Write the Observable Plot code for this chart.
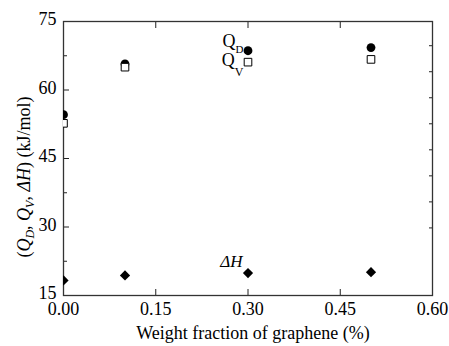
<!DOCTYPE html>
<html>
<head>
<meta charset="utf-8">
<script src="https://cdn.jsdelivr.net/npm/d3@7"></script>
<script src="https://cdn.jsdelivr.net/npm/@observablehq/plot@0.6"></script>
<style>
  html, body { margin: 0; padding: 0; background: #fff; }
  #chart { width: 449px; height: 346px; }
  #chart svg, #chart svg text { font-family: "Liberation Serif", "Times New Roman", serif; }
</style>
</head>
<body>
<div id="chart"></div>
<script>
// Data
const weightFraction = [0, 0.1, 0.3, 0.5];
const QD = [54.6, 65.7, 68.6, 69.3];
const QV = [52.7, 65.0, 66.1, 66.7];
const dH = [18.3, 19.4, 19.9, 20.1];

const xTicks = [0, 0.15, 0.30, 0.45, 0.60];
const xTickLabels = ["0.00", "0.15", "0.30", "0.45", "0.60"];
const yTicks = [15, 30, 45, 60, 75];
const yMinorTicks = [22.5, 37.5, 52.5, 67.5];
const yRightTicks = [69.7, 64.0, 58.3, 52.6, 46.9, 41.2, 35.5, 29.8];

const rows = weightFraction.map((w, i) => ({w, qd: QD[i], qv: QV[i], dh: dH[i]}));

const FONT = "'Liberation Serif', 'Times New Roman', serif";

const plot = Plot.plot({
  width: 449,
  height: 346,
  marginLeft: 63,
  marginRight: 17,
  marginTop: 21,
  marginBottom: 51,
  style: {fontFamily: FONT, fontSize: "18px", color: "#000", background: "#fff"},
  x: {domain: [0, 0.6]},
  y: {domain: [15, 75]},
  marks: [
    // tick labels
    Plot.axisX({ticks: xTicks, tickSize: 0, tickPadding: 7, tickFormat: (d, i) => xTickLabels[i], label: null}),
    Plot.axisY({ticks: yTicks, tickSize: 0, tickPadding: 7, dy: -2, label: null}),
    // inward ticks
    Plot.axisX({ticks: [0.15, 0.30, 0.45], tickSize: -6, text: null, label: null, stroke: "#222"}),
    Plot.axisX({anchor: "top", ticks: [0.15, 0.30, 0.45], tickSize: -6, text: null, label: null, stroke: "#222"}),
    Plot.axisY({ticks: [30, 45, 60], tickSize: -6, text: null, label: null, stroke: "#222"}),
    Plot.axisY({ticks: yMinorTicks, tickSize: -4, text: null, label: null, stroke: "#222"}),
    Plot.axisY({anchor: "right", ticks: yRightTicks, tickSize: -4, text: null, label: null, stroke: "#222"}),
    Plot.frame({stroke: "#333", strokeWidth: 1.3}),
    // data
    Plot.dot(rows, {x: "w", y: "qd", symbol: "circle", r: 4.4, fill: "#000", stroke: "none", clip: true}),
    Plot.dot(rows, {x: "w", y: "qv", symbol: "square", r: 4.3, fill: "#fff", stroke: "#000", strokeWidth: 1, clip: true}),
    Plot.dot(rows, {x: "w", y: "dh", symbol: "diamond2", r: 4.6, fill: "#000", stroke: "none", clip: true})
  ]
});

document.getElementById("chart").appendChild(plot);

const svg = d3.select(plot);
const sx = plot.scale("x"), sy = plot.scale("y");

// Point annotations positioned via the scales
const i3 = 2;
const qdx = sx.apply(weightFraction[i3]), qdy = sy.apply(QD[i3]);
const tQD = svg.append("text").attr("x", qdx - 4).attr("y", qdy - 3)
  .attr("text-anchor", "end").attr("font-size", 18).attr("fill", "#000");
tQD.append("tspan").text("Q");
tQD.append("tspan").attr("font-size", 11).attr("dy", 6).text("D");

const qvy = sy.apply(QV[i3]);
const tQV = svg.append("text").attr("x", qdx - 4).attr("y", qvy + 4)
  .attr("text-anchor", "end").attr("font-size", 18).attr("fill", "#000");
tQV.append("tspan").text("Q");
tQV.append("tspan").attr("font-size", 12).attr("dy", 10).text("V");

const dhy = sy.apply(dH[i3]);
svg.append("text").attr("x", qdx - 5).attr("y", dhy - 6)
  .attr("text-anchor", "end").attr("font-size", 17).attr("font-style", "italic").attr("fill", "#000")
  .text("ΔH");

// Axis titles
svg.append("text").attr("x", 253).attr("y", 339).attr("text-anchor", "middle")
  .attr("font-size", 18).attr("fill", "#000")
  .text("Weight fraction of graphene (%)");

const yl = svg.append("text").attr("transform", "translate(30,177) rotate(-90)").attr("text-anchor", "middle")
  .attr("font-size", 18).attr("fill", "#000");
yl.append("tspan").text("(");
yl.append("tspan").attr("font-style", "italic").text("Q");
yl.append("tspan").attr("font-style", "italic").attr("font-size", 12).attr("dy", 4).text("D");
yl.append("tspan").attr("dy", -4).text(", ");
yl.append("tspan").attr("font-style", "italic").text("Q");
yl.append("tspan").attr("font-style", "italic").attr("font-size", 12).attr("dy", 4).text("V");
yl.append("tspan").attr("dy", -4).text(", ");
yl.append("tspan").attr("font-style", "italic").text("ΔH");
yl.append("tspan").text(") (kJ/mol)");
</script>
</body>
</html>
